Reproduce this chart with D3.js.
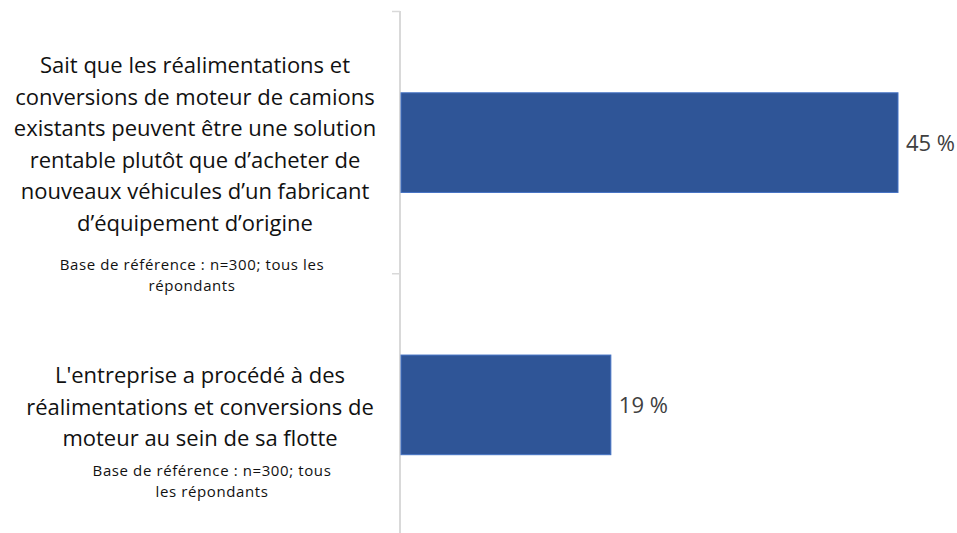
<!DOCTYPE html>
<html>
<head>
<meta charset="utf-8">
<script src="https://cdn.jsdelivr.net/npm/d3@7"></script>
<style>
  html, body { margin: 0; padding: 0; background: #fff; }
  svg { display: block; }
  text { font-family: "Open Sans", "Liberation Sans", sans-serif; }
</style>
</head>
<body>
<svg id="chart" width="957" height="533"></svg>
<script>
// ---- Data ----
const categories = ["cat1", "cat2"];
const categoryLines = [
  ["Sait que les réalimentations et",
   "conversions de moteur de camions",
   "existants peuvent être une solution",
   "rentable plutôt que d’acheter de",
   "nouveaux véhicules d’un fabricant",
   "d’équipement  d’origine"],
  ["L'entreprise a procédé à des",
   "réalimentations et conversions de",
   "moteur au sein de sa flotte"]
];
const noteLines = [
  ["Base de référence : n=300; tous les", "répondants"],
  ["Base de référence : n=300; tous", "les répondants"]
];
const values = [45, 19];
const valueLabels = ["45 %", "19 %"];

// ---- Layout ----
const svg = d3.select("#chart");
const axisX = 400;
const x = d3.scaleLinear().domain([0, d3.max(values)]).range([401, 898]);
const y = d3.scaleBand().domain(categories).range([11.5, 536]).paddingInner(0.62).paddingOuter(0.31);
const step = y.step();

// axis line
svg.append("line")
  .attr("x1", axisX).attr("x2", axisX)
  .attr("y1", 11).attr("y2", 533)
  .attr("stroke", "#d9d9d9").attr("stroke-width", 2);

// ticks at category boundaries
const boundaries = [11.5, y(categories[1]) - y.paddingInner() * step / 2];
svg.selectAll("line.tick").data(boundaries).join("line")
  .attr("class", "tick")
  .attr("x1", axisX - 8).attr("x2", axisX)
  .attr("y1", d => d).attr("y2", d => d)
  .attr("stroke", "#d9d9d9").attr("stroke-width", 1.5);

// bars
svg.selectAll("rect.bar").data(values).join("rect")
  .attr("class", "bar")
  .attr("x", x(0))
  .attr("y", (d, i) => y(categories[i]))
  .attr("width", d => x(d) - x(0))
  .attr("height", y.bandwidth())
  .attr("fill", "#2F5597")
  .attr("stroke", "#4472C4")
  .attr("stroke-width", 1);

// value labels
svg.selectAll("text.val").data(values).join("text")
  .attr("class", "val")
  .attr("x", d => x(d) + 8)
  .attr("y", (d, i) => y(categories[i]) + y.bandwidth() / 2 + 8)
  .attr("fill", "#404040")
  .attr("font-size", 22)
  .text((d, i) => valueLabels[i]);

// category labels
const catCenters = [195, 200];
const catFirstBaseline = [73, 383];
const lineGap = 31.5;
categoryLines.forEach((lines, i) => {
  const t = svg.append("text")
    .attr("text-anchor", "middle")
    .attr("fill", "#111")
    .attr("font-size", 22);
  lines.forEach((ln, j) => {
    t.append("tspan").attr("x", catCenters[i]).attr("y", catFirstBaseline[i] + j * lineGap).text(ln);
  });
});

// notes
const noteCenters = [192, 212];
const noteFirstBaseline = [270, 476];
noteLines.forEach((lines, i) => {
  const t = svg.append("text")
    .attr("text-anchor", "middle")
    .attr("fill", "#111")
    .attr("font-size", 15)
    .attr("letter-spacing", 0.6);
  lines.forEach((ln, j) => {
    t.append("tspan").attr("x", noteCenters[i]).attr("y", noteFirstBaseline[i] + j * 21).text(ln);
  });
});
</script>
</body>
</html>
